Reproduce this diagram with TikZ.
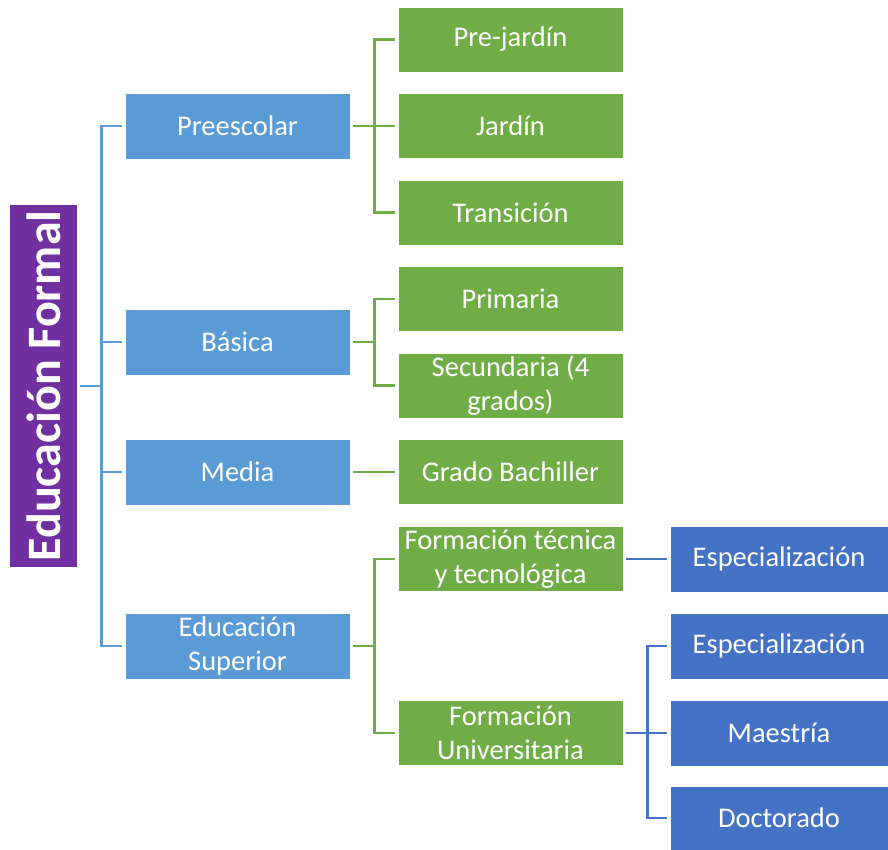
\documentclass[tikz,border=0pt]{standalone}
\usepackage{fontspec}
\setmainfont{Carlito}
\usetikzlibrary{positioning}

\definecolor{formalpurple}{HTML}{7030A0}
\definecolor{levelblue}{HTML}{5B9BD5}
\definecolor{levelgreen}{HTML}{70AD47}
\definecolor{leveldark}{HTML}{4472C4}

\tikzset{
  box/.style={rectangle,draw=white,line width=0.6pt,text=white,align=center,inner sep=0pt,
    font=\fontsize{28.5}{34}\selectfont},
  lvlone/.style={box,fill=levelblue,minimum width=225pt,minimum height=66pt},
  lvltwo/.style={box,fill=levelgreen,minimum width=225pt,minimum height=65pt},
  lvlthree/.style={box,fill=leveldark,minimum width=218pt,minimum height=66pt},
  link/.style={line width=2.8pt,shorten <=3pt,shorten >=3pt}
}

\begin{document}
\begin{tikzpicture}[x=1pt,y=-1pt]
\useasboundingbox (0,0) rectangle (888,850);

% Root
\node[rectangle,fill=formalpurple,minimum width=67pt,minimum height=362pt,inner sep=0pt] (root) at (43.5,386) {};
\node[rotate=90,text=white,font=\bfseries\fontsize{48}{52}\selectfont] at (root) {Educación Formal};

% First level
\node[lvlone] (pre) at (237.5,126) {Preescolar};
\node[lvlone] (bas) at (237.5,342) {Básica};
\node[lvlone] (med) at (237.5,472) {Media};
\node[lvlone] (sup) at (237.5,646) {Educación\\Superior};

% Second level
\node[lvltwo] (prej) at (510.5,39.5) {Pre-jardín};
\node[lvltwo] (jar) at (510.5,126) {Jardín};
\node[lvltwo] (tra) at (510.5,212.5) {Transición};
\node[lvltwo] (pri) at (510.5,299) {Primaria};
\node[lvltwo] (sec) at (510.5,385.5) {Secundaria (4\\grados)};
\node[lvltwo] (bach) at (510.5,472) {Grado Bachiller};
\node[lvltwo] (tec) at (510.5,559) {Formación técnica\\y tecnológica};
\node[lvltwo] (univ) at (510.5,733) {Formación\\Universitaria};

% Third level
\node[lvlthree] (espa) at (779,559) {Especialización};
\node[lvlthree] (espb) at (779,646) {Especialización};
\node[lvlthree] (mae) at (779,733) {Maestría};
\node[lvlthree,minimum height=64pt] (doc) at (779,818) {Doctorado};

% Connectors
\foreach \n in {pre,bas,med,sup}
  \draw[link,levelblue] (root.east) -- ++(24,0) |- (\n.west);
\foreach \n in {prej,jar,tra}
  \draw[link,levelgreen] (pre.east) -- ++(24,0) |- (\n.west);
\foreach \n in {pri,sec}
  \draw[link,levelgreen] (bas.east) -- ++(24,0) |- (\n.west);
\draw[link,levelgreen] (med.east) -- (bach.west);
\foreach \n in {tec,univ}
  \draw[link,levelgreen] (sup.east) -- ++(24,0) |- (\n.west);
\draw[link,leveldark] (tec.east) -- (espa.west);
\foreach \n in {espb,mae,doc}
  \draw[link,leveldark] (univ.east) -- ++(24,0) |- (\n.west);
\end{tikzpicture}
\end{document}
